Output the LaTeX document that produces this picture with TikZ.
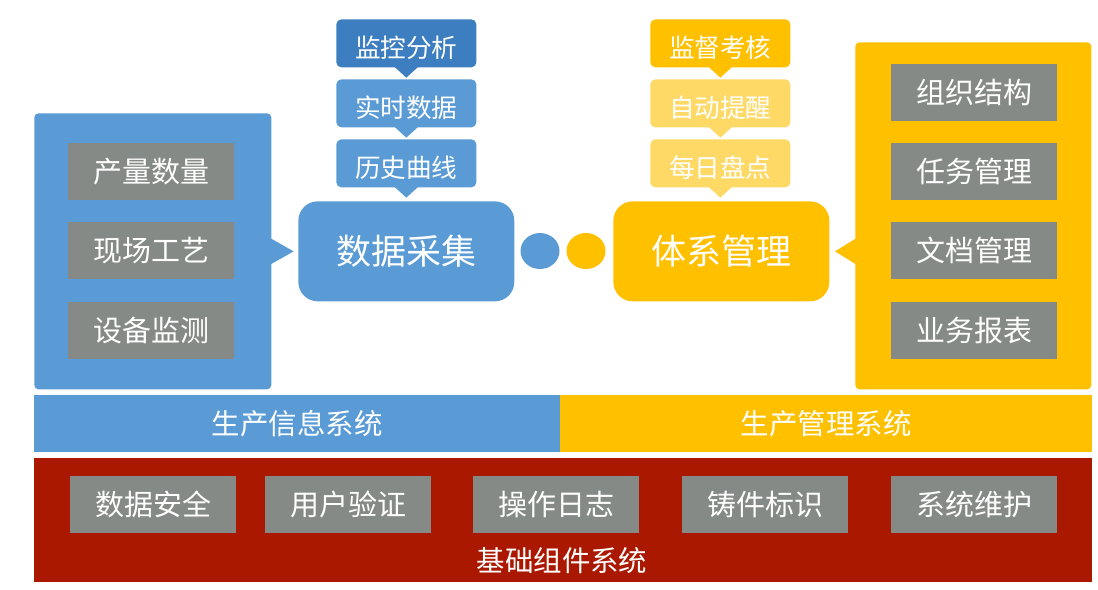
\documentclass[tikz,border=0pt]{standalone}
\usepackage{fontspec}
\newfontfamily\cjk{Noto Sans CJK SC}
\usetikzlibrary{shapes,positioning,calc}
\definecolor{cblue}{HTML}{5B9BD5}
\definecolor{cdblue}{HTML}{3C7EC0}
\definecolor{cyellow}{HTML}{FFC000}
\definecolor{clyellow}{HTML}{FFD966}
\definecolor{cgray}{HTML}{858A87}
\definecolor{cred}{HTML}{AA1800}
\tikzstyle{every node}=[inner sep=0pt, text=white, font=\cjk]
\tikzstyle{panel} = [rectangle, rounded corners=2.3pt, anchor=north west]
\tikzstyle{item} = [rectangle, fill=cgray, anchor=north west, minimum width=3.32cm,
    minimum height=1.14cm, font=\cjk\fontsize{16.5pt}{18pt}\selectfont]
\tikzstyle{tag} = [rectangle, rounded corners=2.8pt, anchor=north west, minimum width=2.8cm,
    minimum height=0.96cm, text height=17pt, text depth=0.7pt,
    font=\cjk\fontsize{14.6pt}{16pt}\selectfont]
\tikzstyle{hub} = [rectangle, rounded corners=11pt, anchor=north west, minimum width=4.32cm,
    minimum height=2cm, font=\cjk\fontsize{19.9pt}{22pt}\selectfont]
\tikzstyle{bar} = [rectangle, anchor=north west, minimum height=1.14cm,
    font=\cjk\fontsize{16.2pt}{18pt}\selectfont]
\tikzstyle{dot} = [ellipse, minimum width=0.78cm, minimum height=0.72cm]

\begin{document}
\begin{tikzpicture}[x=0.02cm, y=-0.02cm]
	\useasboundingbox (0,0) rectangle (1098,589);
	% Side panels
	\node [panel, fill=cblue, minimum width=4.74cm, minimum height=5.52cm] (lpanel) at (34,113) {};
	\node [panel, fill=cyellow, minimum width=4.72cm, minimum height=6.94cm] (rpanel) at (855,42) {};
	\node [item] (qty) at (68,143) {产量数量};
	\node [item] (proc) at (68,222) {现场工艺};
	\node [item] (equip) at (68,302) {设备监测};
	\node [item] (org) at (891,64) {组织结构};
	\node [item] (task) at (891,143) {任务管理};
	\node [item] (doc) at (891,222) {文档管理};
	\node [item] (rep) at (891,302) {业务报表};
	% Hubs and tags
	\node [hub, fill=cblue] (daq) at (298,201) {数据采集};
	\node [hub, fill=cyellow] (sys) at (613,201) {体系管理};
	\node [tag, fill=cdblue] (mon) at (336,19) {监控分析};
	\node [tag, fill=cblue] (rt) at (336,79) {实时数据};
	\node [tag, fill=cblue] (hist) at (336,139) {历史曲线};
	\node [tag, fill=cyellow] (sup) at (650,19) {监督考核};
	\node [tag, fill=clyellow] (remind) at (650,79) {自动提醒};
	\node [tag, fill=clyellow] (daily) at (650,139) {每日盘点};
	\node [dot, fill=cblue] (dotl) at (540,251) {};
	\node [dot, fill=cyellow] (dotr) at (586,251) {};
	% Pointers
	\fill [cdblue] ($(mon.south)+(-12,-1)$) -- ($(mon.south)+(12,-1)$) -- ($(mon.south)+(0,10)$) -- cycle;
	\fill [cblue] ($(rt.south)+(-12,-1)$) -- ($(rt.south)+(12,-1)$) -- ($(rt.south)+(0,10)$) -- cycle;
	\fill [cblue] ($(hist.south)+(-12,-1)$) -- ($(hist.south)+(12,-1)$) -- ($(hist.south)+(0,10)$) -- cycle;
	\fill [cyellow] ($(sup.south)+(-12,-1)$) -- ($(sup.south)+(12,-1)$) -- ($(sup.south)+(0,10)$) -- cycle;
	\fill [clyellow] ($(remind.south)+(-12,-1)$) -- ($(remind.south)+(12,-1)$) -- ($(remind.south)+(0,10)$) -- cycle;
	\fill [clyellow] ($(daily.south)+(-12,-1)$) -- ($(daily.south)+(12,-1)$) -- ($(daily.south)+(0,10)$) -- cycle;
	\fill [cblue] ($(lpanel.east |- daq.west)+(-1,-13)$) -- ($(lpanel.east |- daq.west)+(-1,13)$) -- ($(lpanel.east |- daq.west)+(22,0)$) -- cycle;
	\fill [cyellow] ($(rpanel.west |- sys.east)+(1,-13)$) -- ($(rpanel.west |- sys.east)+(1,13)$) -- ($(rpanel.west |- sys.east)+(-20,0)$) -- cycle;
	% System bars
	\node [bar, fill=cblue, minimum width=10.52cm] (info) at (34,395) {生产信息系统};
	\node [bar, fill=cyellow, minimum width=10.64cm] (mgmt) at (560,395) {生产管理系统};
	\node [rectangle, fill=cred, anchor=north west, minimum width=21.16cm, minimum height=2.48cm] (base) at (34,458) {};
	\node [item] (sec) at (70,476) {数据安全};
	\node [item] (auth) at (265,476) {用户验证};
	\node [item] (log) at (473,476) {操作日志};
	\node [item] (cast) at (682,476) {铸件标识};
	\node [item] (maint) at (891,476) {系统维护};
	\node [font=\cjk\fontsize{16.2pt}{18pt}\selectfont] (baselbl) at (562,561) {基础组件系统};
\end{tikzpicture}
\end{document}
